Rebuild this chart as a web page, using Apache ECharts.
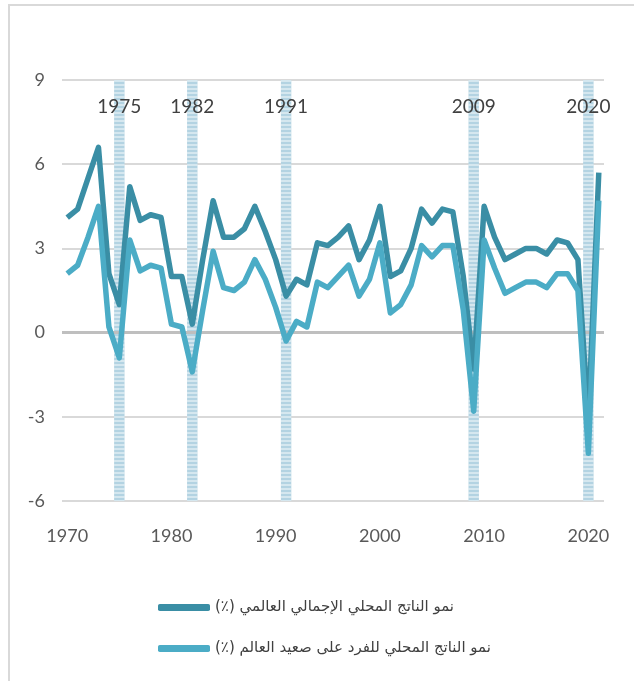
<!DOCTYPE html>
<html>
<head>
<meta charset="utf-8">
<script src="https://cdn.jsdelivr.net/npm/echarts@6/dist/echarts.min.js"></script>
<style>
html,body{margin:0;padding:0;background:#fff;}
#c{width:634px;height:681px;}
</style>
</head>
<body>
<div id="c"></div>
<script>
const years = ['1970','1971','1972','1973','1974','1975','1976','1977','1978','1979',
  '1980','1981','1982','1983','1984','1985','1986','1987','1988','1989',
  '1990','1991','1992','1993','1994','1995','1996','1997','1998','1999',
  '2000','2001','2002','2003','2004','2005','2006','2007','2008','2009',
  '2010','2011','2012','2013','2014','2015','2016','2017','2018','2019',
  '2020','2021'];
const gdpGrowth = [4.1,4.4,5.5,6.6,2.1,1.0,5.2,4.0,4.2,4.1,
  2.0,2.0,0.3,2.6,4.7,3.4,3.4,3.7,4.5,3.6,
  2.6,1.3,1.9,1.7,3.2,3.1,3.4,3.8,2.6,3.3,
  4.5,2.0,2.2,3.0,4.4,3.9,4.4,4.3,2.0,-1.3,
  4.5,3.4,2.6,2.8,3.0,3.0,2.8,3.3,3.2,2.6,
  -3.1,5.7];
const gdpPerCapitaGrowth = [2.1,2.4,3.4,4.5,0.2,-0.9,3.3,2.2,2.4,2.3,
  0.3,0.2,-1.4,0.8,2.9,1.6,1.5,1.8,2.6,1.9,
  0.9,-0.3,0.4,0.2,1.8,1.6,2.0,2.4,1.3,1.9,
  3.2,0.7,1.0,1.7,3.1,2.7,3.1,3.1,0.8,-2.8,
  3.3,2.3,1.4,1.6,1.8,1.8,1.6,2.1,2.1,1.5,
  -4.3,4.7];
const crisisYears = ['1975','1982','1991','2009','2020'];
const seriesNames = ['نمو الناتج المحلي الإجمالي العالمي (٪)','نمو الناتج المحلي للفرد على صعيد العالم (٪)'];
const yMin = -6, yMax = 9, yStep = 3;

const bandTop = years.map(y => crisisYears.indexOf(y) >= 0 ? yMax : '-');
const bandBottom = years.map(y => crisisYears.indexOf(y) >= 0 ? yMin : '-');

const chart = echarts.init(document.getElementById('c'), null, {renderer:'canvas'});
const bandStyle = {
  color: '#b3d3e2',
  decal: {symbol:'rect', symbolSize:1, dashArrayX:[[1,0]], dashArrayY:[2,2], rotation:0, color:'rgba(255,255,255,0.45)'}
};
chart.setOption({
  animation:false,
  backgroundColor:'#fff',
  textStyle:{fontFamily:'Lato, "DejaVu Sans", sans-serif'},
  graphic:[{type:'rect', shape:{x:9,y:5,width:700,height:700}, style:{fill:null, stroke:'#d9d9d9', lineWidth:2}, silent:true, z:-1}],
  grid:{left:62, right:30, top:80, bottom:180},
  legend:{
    orient:'vertical', left:153, top:595, itemGap:26,
    itemWidth:52, itemHeight:7, icon:'roundRect',
    data:seriesNames,
    formatter: n => '\u200F' + n + '\u200F',
    textStyle:{fontFamily:'"DejaVu Sans", sans-serif', fontSize:15, color:'#404040', padding:[0,0,0,0]}
  },
  xAxis:{
    type:'category', data:years, boundaryGap:true,
    axisLine:{show:false}, axisTick:{show:false},
    axisLabel:{interval:9, color:'#595959', fontSize:18, margin:26, fontFamily:'Lato, sans-serif'},
    splitLine:{show:false}
  },
  yAxis:{
    type:'value', min:yMin, max:yMax, interval:yStep,
    axisLine:{show:false}, axisTick:{show:false},
    axisLabel:{color:'#595959', fontSize:18, margin:17, fontFamily:'Lato, sans-serif'},
    splitLine:{lineStyle:{color:'#d9d9d9', width:2}}
  },
  series:[
    {type:'bar', name:'band', stack:'b', data:bandTop, barCategoryGap:'0%', barWidth:'100%', itemStyle:bandStyle, silent:true, z:1,
      label:{show:true, position:'insideTop', offset:[0,12], color:'#404040', fontSize:19, fontFamily:'Lato, sans-serif', formatter: p => p.name}},
    {type:'bar', name:'band2', stack:'b', data:bandBottom, barCategoryGap:'0%', barWidth:'100%', itemStyle:bandStyle, silent:true, z:1},
    {type:'line', name:seriesNames[0], data:gdpGrowth, symbol:'none', z:3,
      lineStyle:{color:'#3a8ea5', width:5.5, join:'round'}, itemStyle:{color:'#3a8ea5'},
      markLine:{silent:true, symbol:'none', label:{show:false}, data:[{yAxis:0}], lineStyle:{color:'#bfbfbf', width:3, type:'solid'}, z:2}},
    {type:'line', name:seriesNames[1], data:gdpPerCapitaGrowth, symbol:'none', z:4,
      lineStyle:{color:'#4bacc6', width:5.5, join:'round'}, itemStyle:{color:'#4bacc6'}}
  ]
});
</script>
</body>
</html>
